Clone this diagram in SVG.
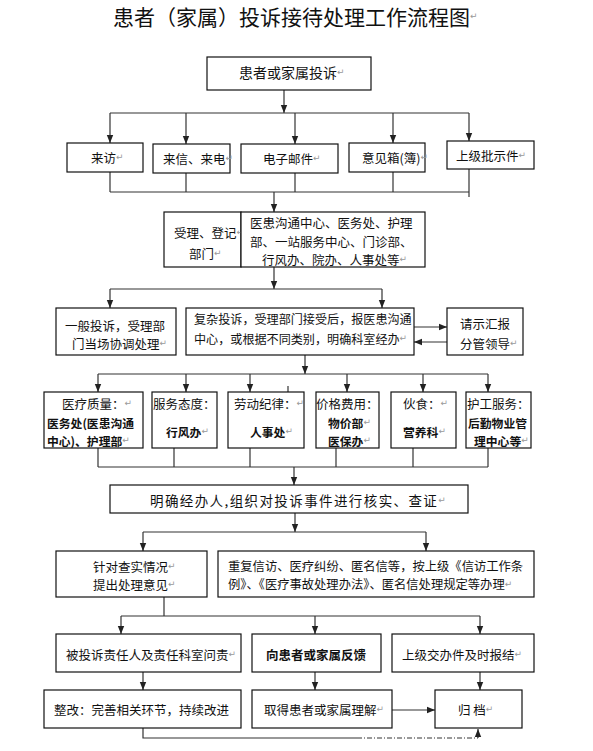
<svg xmlns="http://www.w3.org/2000/svg" width="593" height="751" viewBox="0 0 593 751">
<style>
text{font-family:"Noto Sans CJK SC","Noto Sans",sans-serif;font-size:12.5px;fill:#111;dominant-baseline:central}
.b{font-weight:bold}
.s{font-size:11.8px}
.t{font-size:21px}
.pm{font-family:"DejaVu Sans",sans-serif;font-size:9px;fill:#999;font-weight:normal}
rect{fill:#fff;stroke:#111;stroke-width:1.2}
.c line,.c polyline{stroke:#333;stroke-width:1.2;fill:none}
</style>
<defs>
<marker id="ah" viewBox="0 0 10 10" refX="10" refY="5" markerWidth="8" markerHeight="8" orient="auto" markerUnits="userSpaceOnUse"><path d="M0,1 L10,5 L0,9 z" fill="#222"/></marker>
</defs>
<rect width="593" height="751" style="fill:#fff;stroke:none"/>
<text class="t" x="113" y="16">患者（家属）投诉接待处理工作流程图<tspan class="pm">↵</tspan></text>

<g class="c" id="connectors">
<line x1="284" y1="90" x2="284" y2="113" marker-end="url(#ah)"/>
<line x1="110" y1="113" x2="469" y2="113"/>
<line x1="110" y1="113" x2="110" y2="143" marker-end="url(#ah)"/>
<line x1="186" y1="113" x2="186" y2="144" marker-end="url(#ah)"/>
<line x1="295" y1="113" x2="295" y2="144" marker-end="url(#ah)"/>
<line x1="393" y1="113" x2="393" y2="143" marker-end="url(#ah)"/>
<line x1="469" y1="113" x2="469" y2="141" marker-end="url(#ah)"/>
<line x1="110" y1="172" x2="110" y2="192"/>
<line x1="186" y1="173" x2="186" y2="192"/>
<line x1="295" y1="173" x2="295" y2="192"/>
<line x1="393" y1="172" x2="393" y2="192"/>
<line x1="469" y1="169" x2="469" y2="197"/>
<line x1="110" y1="192" x2="469" y2="192"/>
<line x1="274" y1="192" x2="274" y2="212" marker-end="url(#ah)"/>
<line x1="274" y1="267" x2="274" y2="289" marker-end="url(#ah)"/>
<line x1="110" y1="289" x2="382" y2="289"/>
<line x1="110" y1="289" x2="110" y2="308" marker-end="url(#ah)"/>
<line x1="382" y1="289" x2="382" y2="308" marker-end="url(#ah)"/>
<line x1="414" y1="327" x2="447" y2="327" marker-end="url(#ah)"/>
<line x1="447" y1="342" x2="414" y2="342" marker-end="url(#ah)"/>
<line x1="305" y1="355" x2="305" y2="374" marker-end="url(#ah)"/>
<line x1="98" y1="374" x2="488" y2="374"/>
<line x1="98" y1="374" x2="98" y2="392" marker-end="url(#ah)"/>
<line x1="186" y1="374" x2="186" y2="392" marker-end="url(#ah)"/>
<line x1="250" y1="374" x2="250" y2="392" marker-end="url(#ah)"/>
<line x1="347" y1="374" x2="347" y2="392" marker-end="url(#ah)"/>
<line x1="423" y1="374" x2="423" y2="392" marker-end="url(#ah)"/>
<line x1="488" y1="374" x2="488" y2="392" marker-end="url(#ah)"/>
<line x1="288" y1="386" x2="288" y2="405" marker-end="url(#ah)"/>
<line x1="98" y1="448" x2="98" y2="467"/>
<line x1="174" y1="448" x2="174" y2="467"/>
<line x1="250" y1="448" x2="250" y2="467"/>
<line x1="336" y1="448" x2="336" y2="467"/>
<line x1="413" y1="448" x2="413" y2="467"/>
<line x1="488" y1="448" x2="488" y2="467"/>
<line x1="98" y1="467" x2="488" y2="467"/>
<line x1="294" y1="467" x2="294" y2="485" marker-end="url(#ah)"/>
<line x1="295" y1="513" x2="295" y2="532" marker-end="url(#ah)"/>
<line x1="143" y1="532" x2="426" y2="532"/>
<line x1="143" y1="532" x2="143" y2="551" marker-end="url(#ah)"/>
<line x1="426" y1="532" x2="426" y2="551" marker-end="url(#ah)"/>
<line x1="164" y1="597" x2="164" y2="616"/>
<line x1="121" y1="616" x2="480" y2="616"/>
<line x1="121" y1="616" x2="121" y2="634" marker-end="url(#ah)"/>
<line x1="315" y1="616" x2="315" y2="634" marker-end="url(#ah)"/>
<line x1="480" y1="616" x2="480" y2="634" marker-end="url(#ah)"/>
<line x1="143" y1="672" x2="143" y2="690" marker-end="url(#ah)"/>
<line x1="315" y1="672" x2="315" y2="690" marker-end="url(#ah)"/>
<line x1="480" y1="672" x2="480" y2="690" marker-end="url(#ah)"/>
<line x1="392" y1="710" x2="435" y2="710" marker-end="url(#ah)"/>
<polyline points="143,728 143,738 357,738"/>
<line x1="357" y1="738" x2="478" y2="738" stroke-dasharray="5 2 1 2"/>
<line x1="478" y1="738" x2="478" y2="729" marker-end="url(#ah)"/>
</g>

<g id="n_complaint"><rect x="207" y="57" width="164" height="33"/><text x="239" y="72" style="font-size:14px">患者或家属投诉<tspan class="pm">↵</tspan></text></g>

<g id="n_visit"><rect x="67" y="143" width="76" height="29"/><text x="91" y="157">来访<tspan class="pm">↵</tspan></text></g>
<g id="n_letter"><rect x="153" y="144" width="77" height="29"/><text x="163" y="158">来信、来电<tspan class="pm">↵</tspan></text></g>
<g id="n_email"><rect x="241" y="144" width="97" height="29"/><text x="263" y="158">电子邮件<tspan class="pm">↵</tspan></text></g>
<g id="n_box"><rect x="349" y="143" width="76" height="29"/><text x="362" y="157">意见箱(簿)<tspan class="pm">↵</tspan></text></g>
<g id="n_superior"><rect x="447" y="141" width="87" height="28"/><text x="456" y="155">上级批示件<tspan class="pm">↵</tspan></text></g>

<g id="n_register">
<rect x="164" y="212" width="77" height="55"/>
<text x="174" y="232">受理、登记<tspan class="pm">↵</tspan></text>
<text x="189" y="253">部门<tspan class="pm">↵</tspan></text>
</g>
<g id="n_depts">
<rect x="241" y="212" width="184" height="55"/>
<text x="250" y="222">医患沟通中心、医务处、护理</text>
<text x="250" y="241">部、一站服务中心、门诊部、</text>
<text x="262" y="259">行风办、院办、人事处等<tspan class="pm">↵</tspan></text>
</g>

<g id="n_general">
<rect x="56" y="308" width="120" height="47"/>
<text x="65" y="325">一般投诉，受理部</text>
<text x="72" y="343">门当场协调处理<tspan class="pm">↵</tspan></text>
</g>
<g id="n_complex">
<rect x="186" y="308" width="228" height="47"/>
<text x="194" y="318" style="font-size:12.1px">复杂投诉，受理部门接受后，报医患沟通</text>
<text x="194" y="338" style="font-size:12.1px">中心，或根据不同类别，明确科室经办<tspan class="pm">↵</tspan></text>
</g>
<g id="n_report">
<rect x="447" y="308" width="76" height="47"/>
<text x="460" y="323">请示汇报</text>
<text x="460" y="343">分管领导<tspan class="pm">↵</tspan></text>
</g>

<g id="n_quality">
<rect x="44" y="392" width="99" height="56"/>
<text x="62" y="403">医疗质量：<tspan class="pm">↵</tspan></text>
<text class="b s" x="47" y="422">医务处(医患沟通</text>
<text class="b s" x="47" y="440">中心)、护理部<tspan class="pm">↵</tspan></text>
</g>
<g id="n_service">
<rect x="152" y="392" width="65" height="56"/>
<text x="153" y="403">服务态度：</text>
<text class="b s" x="166" y="431">行风办<tspan class="pm">↵</tspan></text>
</g>
<g id="n_labor">
<rect x="228" y="392" width="76" height="56"/>
<text x="234" y="403">劳动纪律：<tspan class="pm">↵</tspan></text>
<text class="b s" x="250" y="431">人事处<tspan class="pm">↵</tspan></text>
</g>
<g id="n_price">
<rect x="316" y="392" width="63" height="56"/>
<text x="316" y="403">价格费用：</text>
<text class="b s" x="328" y="422">物价部<tspan class="pm">↵</tspan></text>
<text class="b s" x="328" y="440">医保办<tspan class="pm">↵</tspan></text>
</g>
<g id="n_food">
<rect x="391" y="392" width="65" height="56"/>
<text x="403" y="403">伙食：<tspan class="pm">↵</tspan></text>
<text class="b s" x="403" y="431">营养科<tspan class="pm">↵</tspan></text>
</g>
<g id="n_care">
<rect x="466" y="392" width="65" height="56"/>
<text x="467" y="403">护工服务：</text>
<text class="b s" x="468" y="422">后勤物业管</text>
<text class="b s" x="474" y="440">理中心等<tspan class="pm">↵</tspan></text>
</g>

<g id="n_verify">
<rect x="110" y="485" width="358" height="28"/>
<text x="150" y="500" style="font-size:13.5px;letter-spacing:1.4px">明确经办人,组织对投诉事件进行核实、查证<tspan class="pm">↵</tspan></text>
</g>

<g id="n_opinion">
<rect x="56" y="551" width="151" height="46"/>
<text x="93" y="566">针对查实情况<tspan class="pm">↵</tspan></text>
<text x="93" y="584">提出处理意见<tspan class="pm">↵</tspan></text>
</g>
<g id="n_repeat">
<rect x="218" y="551" width="316" height="46"/>
<text x="228" y="566" style="font-size:12.3px">重复信访、医疗纠纷、匿名信等，按上级《信访工作条</text>
<text x="228" y="584" style="font-size:12.3px">例》、《医疗事故处理办法》、匿名信处理规定等办理<tspan class="pm">↵</tspan></text>
</g>

<g id="n_accountable"><rect x="56" y="634" width="185" height="38"/><text x="66" y="654">被投诉责任人及责任科室问责<tspan class="pm">↵</tspan></text></g>
<g id="n_feedback"><rect x="252" y="634" width="129" height="38"/><text class="b" x="266" y="654">向患者或家属反馈</text></g>
<g id="n_report2"><rect x="392" y="634" width="142" height="38"/><text x="402" y="654">上级交办件及时报结<tspan class="pm">↵</tspan></text></g>

<g id="n_improve"><rect x="44" y="690" width="197" height="38"/><text x="54" y="709">整改：完善相关环节，持续改进</text></g>
<g id="n_understand"><rect x="252" y="690" width="140" height="38"/><text x="264" y="709">取得患者或家属理解<tspan class="pm">↵</tspan></text></g>
<g id="n_archive"><rect x="435" y="690" width="87" height="38"/><text x="458" y="709">归 档<tspan class="pm">↵</tspan></text></g>
</svg>
